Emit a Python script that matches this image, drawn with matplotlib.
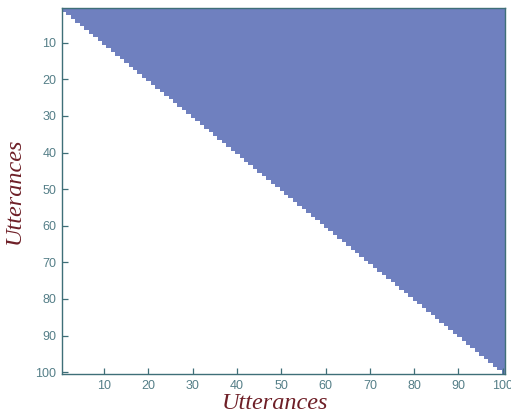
import numpy as np
import matplotlib.pyplot as plt
from matplotlib.colors import ListedColormap

# size of the utterance-by-utterance matrix
n_utt = 100
tick_vals = [10, 20, 30, 40, 50, 60, 70, 80, 90, 100]
axis_label = "Utterances"

# upper triangle (including diagonal) is filled
rows, cols = np.indices((n_utt, n_utt))
mask = (cols >= rows).astype(float)

fill_col = "#6f80bf"
axis_col = "#3f6f78"
label_col = "#6e1f27"

fig = plt.figure(figsize=(5.11, 4.17), dpi=100)
ax = fig.add_axes([62 / 511, 1 - 374 / 417, 443 / 511, 366 / 417])

cmap = ListedColormap(["white", fill_col])
ax.imshow(mask, cmap=cmap, vmin=0, vmax=1, interpolation="nearest",
          aspect="auto", extent=(0.5, n_utt + 0.5, n_utt + 0.5, 0.5))

ax.set_xlim(0.5, n_utt + 0.5)
ax.set_ylim(n_utt + 0.5, 0.5)
ax.set_xticks(tick_vals)
ax.set_yticks(tick_vals)
ax.tick_params(direction="in", length=4, width=0.9, colors=axis_col,
               labelsize=9, labelcolor="#557f88", pad=4)
for lab in ax.get_xticklabels() + ax.get_yticklabels():
    lab.set_family(["Liberation Sans", "DejaVu Sans"])
for sp in ax.spines.values():
    sp.set_color(axis_col)
    sp.set_linewidth(1.0)

lab_font = dict(family=["Liberation Serif", "DejaVu Serif"], style="italic",
                size=17.5, color=label_col)
ax.set_xlabel(axis_label, **lab_font)
ax.set_ylabel(axis_label, **lab_font)
ax.xaxis.set_label_coords(0.481, -0.052)
ax.yaxis.set_label_coords(-0.085, 0.5)

fig.savefig("out.png", dpi=100)
